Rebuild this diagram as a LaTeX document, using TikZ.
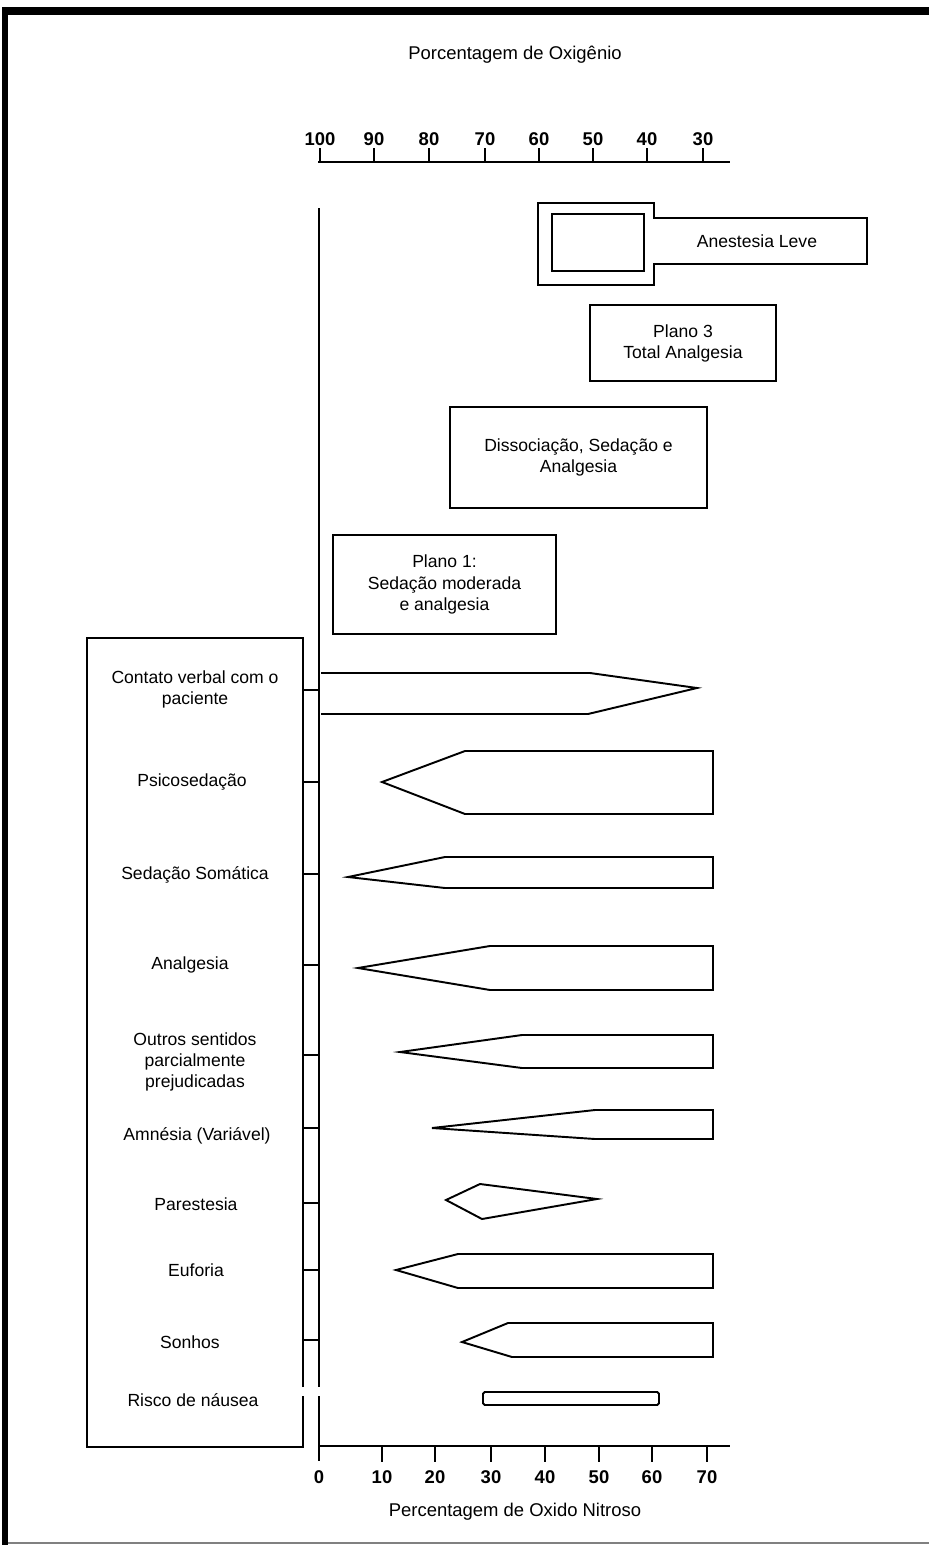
\documentclass[tikz,border=0pt]{standalone}
\usepackage{fontspec}
\setmainfont{Liberation Sans}
\begin{document}
\begin{tikzpicture}[x=0.02cm,y=-0.02cm,
  shp/.style={line width=1.1pt, line join=miter},
  ax/.style={line width=1.6pt},
  lbl/.style={font=\fontsize{10}{12}\selectfont, align=center, inner sep=0pt},
  tk/.style={font=\bfseries\fontsize{10.5}{12}\selectfont, inner sep=0pt},
  ttl/.style={font=\fontsize{10.5}{12}\selectfont, inner sep=0pt},
  box/.style={draw, line width=1.1pt, align=center, font=\fontsize{10}{12}\selectfont, inner sep=0pt}]
\useasboundingbox (0,0) rectangle (929,1545);
\fill[white] (0,0) rectangle (929,1545);
% frame
\fill[black] (2,7) rectangle (929,15);
\fill[black] (2,7) rectangle (8,1545);
\draw[gray, line width=0.8pt] (8,1543) -- (929,1543);
% titles
\node[ttl] (toptitle) at (515,55) {Porcentagem de Oxigênio};
\node[ttl] (bottitle) at (515,1512) {Percentagem de Oxido Nitroso};
% top axis
\draw[ax] (318,162) -- (730,162);
\foreach \x/\l in {320/100,374/90,429/80,485/70,539/60,593/50,647/40,703/30}{
  \draw[ax] (\x,148) -- (\x,162);
  \node[tk] (o\l) at (\x,139) {\l};
}
% bottom axis
\draw[ax] (319,1446) -- (730,1446);
\foreach \x/\l in {382/10,435/20,491/30,545/40,599/50,652/60,707/70}{
  \draw[ax] (\x,1446) -- (\x,1462);
}
\foreach \x/\l in {319/0,382/10,435/20,491/30,545/40,599/50,652/60,707/70}{
  \node[tk] (n\l) at (\x,1477) {\l};
}
% vertical axis
\draw[line width=1.3pt] (319,208) -- (319,1387);
\draw[line width=1.3pt] (319,1396) -- (319,1461);
% left box
\draw[shp] (303,1387) -- (303,638) -- (87,638) -- (87,1447) -- (303,1447) -- (303,1396);
% row labels
\node[lbl] (r1) at (195,689) {Contato verbal com o\\paciente};
\node[lbl] (r2) at (192,782) {Psicosedação};
\node[lbl] (r3) at (195,875) {Sedação Somática};
\node[lbl] (r4) at (190,965) {Analgesia};
\node[lbl] (r5) at (195,1062) {Outros sentidos\\parcialmente\\prejudicadas};
\node[lbl] (r6) at (197,1136) {Amnésia (Variável)};
\node[lbl] (r7) at (196,1204) {Parestesia};
\node[lbl] (r8) at (196,1270) {Euforia};
\node[lbl] (r9) at (190,1342) {Sonhos};
\node[lbl] (r10) at (193,1400) {Risco de náusea};
% connectors box -> axis
\foreach \i/\y in {1/690,2/782,3/874,4/965,5/1055,6/1128,7/1203,8/1270,9/1340}{
  \coordinate (b\i) at (303,\y);
  \coordinate (a\i) at (319,\y);
  \draw[shp] (b\i) -- (a\i);
}
% shapes
\draw[shp] (321,673) -- (590,673) -- (697,688) -- (588,714) -- (321,714);
\draw[shp] (382,782) -- (465,751) -- (713,751) -- (713,814) -- (465,814) -- cycle;
\draw[shp] (348,877) -- (445,857) -- (713,857) -- (713,888) -- (445,888) -- cycle;
\draw[shp] (358,968) -- (490,946) -- (713,946) -- (713,990) -- (490,990) -- cycle;
\draw[shp] (400,1052) -- (522,1035) -- (713,1035) -- (713,1068) -- (522,1068) -- cycle;
\draw[shp] (432,1128) -- (595,1110) -- (713,1110) -- (713,1139) -- (595,1139) -- cycle;
\draw[shp] (446,1200) -- (480,1184) -- (597,1199) -- (482,1219) -- cycle;
\draw[shp] (396,1270) -- (458,1254) -- (713,1254) -- (713,1288) -- (458,1288) -- cycle;
\draw[shp] (462,1342) -- (508,1323) -- (713,1323) -- (713,1357) -- (512,1357) -- cycle;
\draw[shp, rounded corners=1pt] (483,1392) rectangle (659,1405);
% upper boxes
\draw[shp] (538,203) -- (654,203) -- (654,218) -- (867,218) -- (867,264) -- (654,264) -- (654,285) -- (538,285) -- cycle;
\draw[shp] (552,214) rectangle (644,271);
\node[lbl] (leve) at (757,241) {Anestesia Leve};
\node[box, minimum width=3.72cm, minimum height=1.52cm] (p3) at (683,343) {Plano 3\\Total Analgesia};
\node[box, minimum width=5.14cm, minimum height=2.02cm] (dis) at (578.5,457.5) {Dissociação, Sedação e\\Analgesia};
\node[box, minimum width=4.46cm, minimum height=1.98cm] (p1) at (444.5,584.5) {Plano 1:\\Sedação moderada\\e analgesia};
\end{tikzpicture}
\end{document}
